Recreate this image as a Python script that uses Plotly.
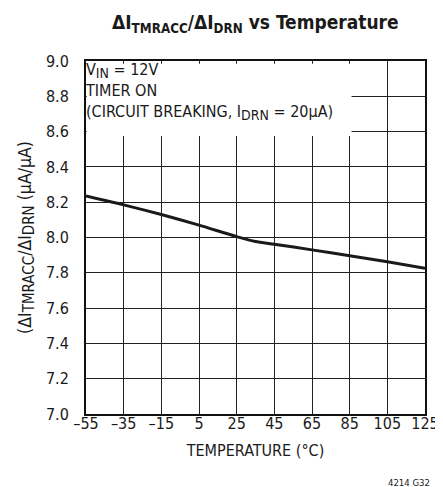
import plotly.graph_objects as go

temperature = [-55, -35, -15, 5, 25, 35, 45, 65, 85, 105, 125]
ratio = [8.235, 8.185, 8.13, 8.07, 8.005, 7.977, 7.962, 7.93, 7.897, 7.863, 7.825]

x_ticks = [-55, -35, -15, 5, 25, 45, 65, 85, 105, 125]
x_ticktext = ["–55", "–35", "–15", "5", "25", "45", "65", "85", "105", "125"]
y_ticks = [7.0, 7.2, 7.4, 7.6, 7.8, 8.0, 8.2, 8.4, 8.6, 8.8, 9.0]
y_ticktext = ["7.0", "7.2", "7.4", "7.6", "7.8", "8.0", "8.2", "8.4", "8.6", "8.8", "9.0"]

FONT = "DejaVu Sans Condensed, Liberation Sans Narrow, Arial Narrow, sans-serif"


def sub(t, size=14):
    return f"<sub><span style='font-size:{size}px'>{t}</span></sub>"


fig = go.Figure()
fig.add_trace(go.Scatter(
    x=temperature, y=ratio, mode="lines",
    line=dict(color="#1a1a1a", width=3, shape="spline", smoothing=0.6),
    showlegend=False, hoverinfo="skip",
))

fig.update_layout(
    width=443, height=487,
    margin=dict(l=78, r=14, t=53, b=81),
    paper_bgcolor="white", plot_bgcolor="white",
    font=dict(family=FONT, size=16, color="#1a1a1a"),
    showlegend=False,
)
fig.update_xaxes(
    range=[-55, 125], tickvals=x_ticks, ticktext=x_ticktext,
    showgrid=True, gridcolor="#222222", gridwidth=1,
    showline=True, linecolor="#111111", linewidth=2, mirror=True,
    ticks="", ticklabelstandoff=-6, zeroline=False,
    title=dict(text="TEMPERATURE (°C)", font=dict(size=16), standoff=13),
    tickfont=dict(size=16),
)
fig.update_yaxes(
    range=[7.0, 9.0], tickvals=y_ticks, ticktext=y_ticktext,
    showgrid=True, gridcolor="#222222", gridwidth=1,
    showline=True, linecolor="#111111", linewidth=2, mirror=True,
    ticks="", ticklabelstandoff=12, zeroline=False,
    title=dict(text="(ΔI" + sub("TMRACC", 15) + "/ΔI" + sub("DRN", 15) + " (μA/μA)",
               font=dict(size=17.5), standoff=10),
    tickfont=dict(size=16),
)

# white box behind the condition text (covers the grid)
fig.add_shape(type="rect", xref="x", yref="y", x0=-54.6, x1=86, y0=8.575, y1=8.985,
              fillcolor="white", line=dict(width=0), layer="between")

fig.add_annotation(
    text="<b>ΔI<sub>TMRACC</sub>/ΔI<sub>DRN</sub> vs Temperature</b>",
    xref="paper", yref="paper", x=0.5, y=1, yshift=38, xanchor="center", yanchor="middle",
    showarrow=False, font=dict(size=19, family=FONT),
)
fig.add_annotation(
    text="V" + sub("IN") + " = 12V<br>TIMER ON<br>(CIRCUIT BREAKING, I" + sub("DRN") + " = 20μA)",
    xref="x", yref="y", x=-55, xshift=-3, y=9.0, yshift=3, xanchor="left", yanchor="top",
    align="left", showarrow=False, font=dict(size=16, family=FONT),
)
fig.add_annotation(
    text="4214 G32", xref="paper", yref="paper", x=1, xshift=7, y=0, yshift=-68,
    xanchor="right", yanchor="middle", showarrow=False, font=dict(size=9.5, family=FONT),
)

fig.write_html("out.html")
